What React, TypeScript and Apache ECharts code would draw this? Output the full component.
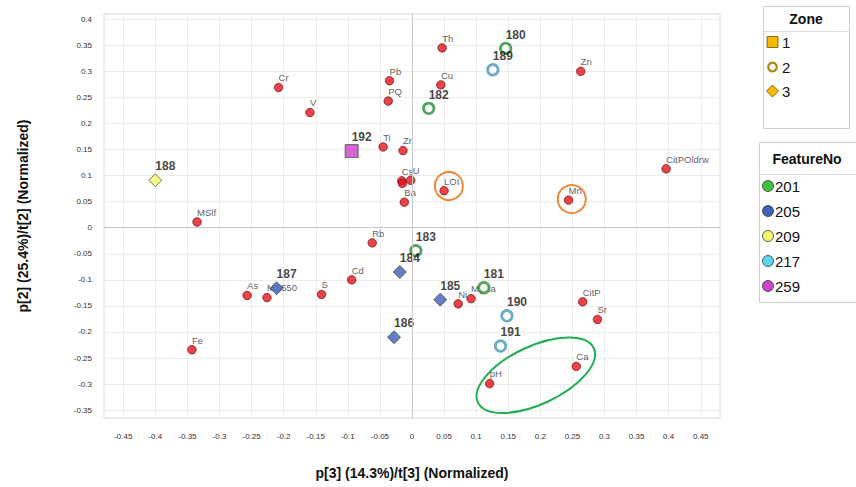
import React, { useEffect, useRef } from "react";
import * as echarts from "echarts";

// ---- Variables (loadings) ----
const variableNames = ["Th", "Zn", "Cr", "Pb", "Cu", "PQ", "V", "Ti", "Zr", "Cs", "K", "U", "CitPOldrw", "LOI", "Mn", "Ba", "MSlf", "Rb", "Cd", "As", "MS550", "S", "Ni", "MgSa", "CitP", "Sr", "Fe", "Ca", "pH"];
const variableX = [0.047, 0.263, -0.208, -0.035, 0.045, -0.037, -0.159, -0.045, -0.014, -0.016, -0.015, -0.002, 0.396, 0.050, 0.244, -0.012, -0.335, -0.062, -0.094, -0.257, -0.226, -0.141, 0.072, 0.092, 0.266, 0.289, -0.343, 0.256, 0.121];
const variableY = [0.345, 0.300, 0.269, 0.282, 0.274, 0.243, 0.221, 0.155, 0.148, 0.090, 0.085, 0.091, 0.113, 0.071, 0.053, 0.049, 0.011, -0.029, -0.100, -0.130, -0.134, -0.128, -0.146, -0.136, -0.142, -0.176, -0.234, -0.266, -0.299];
const hiddenLabels = ["K"];

// ---- Observations (scores) ----
const obsIds = ["180", "181", "182", "183", "184", "185", "186", "187", "188", "189", "190", "191", "192"];
const obsX = [0.146, 0.112, 0.026, 0.006, -0.019, 0.044, -0.028, -0.211, -0.400, 0.126, 0.148, 0.138, -0.094];
const obsY = [0.344, -0.115, 0.229, -0.044, -0.085, -0.138, -0.210, -0.116, 0.091, 0.303, -0.169, -0.227, 0.147];
const obsFeature = ["201", "201", "201", "201", "205", "205", "205", "205", "209", "217", "217", "217", "259"];
const obsZone = ["2", "2", "2", "2", "3", "3", "3", "3", "3", "2", "2", "2", "1"];

// ---- Legends ----
const zoneLabels = ["1", "2", "3"];
const featureLabels = ["201", "205", "209", "217", "259"];

// ---- Annotations (circled regions, data coords) ----
const annotationX = [0.0575, 0.249, 0.193];
const annotationY = [0.080, 0.055, -0.283];
const annotationKind = ["circle", "circle", "ellipse"];

// ---- Axis ticks ----
const xTicks = [-0.45, -0.4, -0.35, -0.3, -0.25, -0.2, -0.15, -0.1, -0.05, 0, 0.05, 0.1, 0.15, 0.2, 0.25, 0.3, 0.35, 0.4, 0.45];
const yTicks = [-0.35, -0.3, -0.25, -0.2, -0.15, -0.1, -0.05, 0, 0.05, 0.1, 0.15, 0.2, 0.25, 0.3, 0.35, 0.4];

const featureFill: Record<string, string> = {
  "201": "#3ec43e",
  "205": "#3f5fb8",
  "209": "#f4f46c",
  "217": "#5ad6f0",
  "259": "#c944c9",
};
const featureRing: Record<string, string> = {
  "201": "#2c8c3a",
  "217": "#4a98b3",
};
const zoneSymbol: Record<string, string> = { "1": "rect", "2": "circle", "3": "diamond" };

const FONT = "'Liberation Sans', Arial, Helvetica, sans-serif";

export default function App() {
  const ref = useRef<HTMLDivElement>(null);

  useEffect(() => {
    if (!ref.current) return;
    const chart = echarts.init(ref.current, undefined, { renderer: "svg" });

    const variableData = variableNames.map((n, i) => {
      const item: any = { name: n, value: [variableX[i], variableY[i]] };
      if (hiddenLabels.includes(n)) item.label = { show: false };
      if (n === "U") item.label = { offset: [2, 0] };
      return item;
    });

    const obsSeries = featureLabels.map((f) => {
      const data = obsIds
        .map((id, i) => ({ id, i }))
        .filter((o) => obsFeature[o.i] === f)
        .map(({ id, i }) => {
          const zone = obsZone[i];
          const sym = zoneSymbol[zone];
          const ring = zone === "2";
          return {
            name: id,
            value: [obsX[i], obsY[i]],
            symbol: sym,
            symbolSize: ring ? 10.5 : 13,
            itemStyle: ring
              ? { color: "#ffffff", borderColor: featureRing[f] || featureFill[f], borderWidth: 2.8 }
              : { color: featureFill[f], borderColor: "#2a2a2a", borderWidth: 0.8 },
          };
        });
      return {
        type: "scatter",
        name: f,
        z: 4,
        data,
        label: {
          show: true,
          formatter: "{b}",
          position: "top",
          align: "left",
          distance: 1,
          fontSize: 12,
          fontWeight: "bold",
          color: "#111",
          fontFamily: FONT,
        },
      };
    });

    const annotationData = annotationX.map((x, i) => [x, annotationY[i]]);

    const legendGraphic: any[] = [];
    // Zone legend
    legendGraphic.push({ type: "rect", shape: { x: 763.5, y: 6.5, width: 86, height: 122 }, style: { fill: "#fff", stroke: "#cfcfcf", lineWidth: 1 } });
    legendGraphic.push({ type: "line", shape: { x1: 763.5, y1: 31.5, x2: 849.5, y2: 31.5 }, style: { stroke: "#dcdcdc", lineWidth: 1 } });
    legendGraphic.push({ type: "text", x: 806, y: 19, style: { text: "Zone", font: `bold 14px ${FONT}`, fill: "#111", textAlign: "center", textVerticalAlign: "middle" } });
    const zoneY = [42, 67, 91];
    zoneLabels.forEach((z, i) => {
      const cy = zoneY[i];
      if (z === "1") {
        legendGraphic.push({ type: "rect", shape: { x: 767, y: cy - 5.5, width: 11, height: 11 }, style: { fill: "#f6b800", stroke: "#6b5200", lineWidth: 0.8 } });
      } else if (z === "2") {
        legendGraphic.push({ type: "circle", shape: { cx: 772.5, cy, r: 4.3 }, style: { fill: "#fff", stroke: "#b08a10", lineWidth: 2.2 } });
      } else {
        legendGraphic.push({ type: "polygon", shape: { points: [[772.5, cy - 6], [778.5, cy], [772.5, cy + 6], [766.5, cy]] }, style: { fill: "#f6b800", stroke: "#6b5200", lineWidth: 0.8 } });
      }
      legendGraphic.push({ type: "text", x: 782, y: cy, style: { text: z, font: `15px ${FONT}`, fill: "#111", textVerticalAlign: "middle" } });
    });
    // FeatureNo legend
    legendGraphic.push({ type: "rect", shape: { x: 759.5, y: 142.5, width: 97, height: 160 }, style: { fill: "#fff", stroke: "#cfcfcf", lineWidth: 1 } });
    legendGraphic.push({ type: "line", shape: { x1: 759.5, y1: 174.5, x2: 856, y2: 174.5 }, style: { stroke: "#dcdcdc", lineWidth: 1 } });
    legendGraphic.push({ type: "text", x: 807, y: 159, style: { text: "FeatureNo", font: `bold 14px ${FONT}`, fill: "#111", textAlign: "center", textVerticalAlign: "middle" } });
    const featY = [186, 211, 236, 261, 286];
    featureLabels.forEach((f, i) => {
      const cy = featY[i];
      legendGraphic.push({ type: "circle", shape: { cx: 768, cy, r: 5.5 }, style: { fill: featureFill[f], stroke: "#333", lineWidth: 0.8 } });
      legendGraphic.push({ type: "text", x: 775, y: cy, style: { text: f, font: `15px ${FONT}`, fill: "#111", textVerticalAlign: "middle" } });
    });

    chart.setOption({
      animation: false,
      textStyle: { fontFamily: FONT },
      grid: {
        left: 104,
        right: 136,
        top: 14,
        bottom: 69,
        show: true,
        borderColor: "#d6d6d6",
        borderWidth: 1,
        backgroundColor: "#fff",
      },
      xAxis: {
        type: "value",
        min: -0.48,
        max: 0.48,
        name: "p[3] (14.3%)/t[3] (Normalized)",
        nameLocation: "middle",
        nameGap: 48,
        nameTextStyle: { fontSize: 14, fontWeight: "bold", color: "#111", fontFamily: FONT },
        axisLine: { show: false },
        axisTick: { show: false, customValues: xTicks },
        axisLabel: {
          customValues: xTicks,
          margin: 14,
          fontSize: 8,
          color: "#333",
          formatter: (v: number) => String(v),
        },
        splitLine: { show: true, lineStyle: { color: "#ececec", width: 1 } },
      },
      yAxis: {
        type: "value",
        min: -0.365,
        max: 0.41,
        name: "p[2] (25.4%)/t[2] (Normalized)",
        nameLocation: "middle",
        nameGap: 74,
        nameTextStyle: { fontSize: 14, fontWeight: "bold", color: "#111", fontFamily: FONT },
        axisLine: { show: false },
        axisTick: { show: false, customValues: yTicks },
        axisLabel: {
          customValues: yTicks,
          margin: 12,
          fontSize: 8,
          color: "#333",
          formatter: (v: number) => String(v),
        },
        splitLine: { show: true, lineStyle: { color: "#ececec", width: 1 } },
      },
      graphic: legendGraphic,
      series: [
        {
          type: "custom",
          name: "annotations",
          z: 1,
          silent: true,
          data: annotationData,
          renderItem: (params: any, api: any) => {
            const p = api.coord([api.value(0), api.value(1)]);
            const kind = annotationKind[params.dataIndex];
            if (kind === "circle") {
              return {
                type: "circle",
                shape: { cx: p[0], cy: p[1], r: 14 },
                style: { fill: "none", stroke: "#ee8a3c", lineWidth: 2 },
              };
            }
            return {
              type: "ellipse",
              x: p[0],
              y: p[1],
              rotation: (25 * Math.PI) / 180,
              shape: { cx: 0, cy: 0, rx: 64, ry: 29 },
              style: { fill: "none", stroke: "#1fae52", lineWidth: 2 },
            };
          },
          markLine: {
            silent: true,
            symbol: "none",
            label: { show: false },
            lineStyle: { color: "#c8c8c8", type: "solid", width: 1 },
            data: [{ xAxis: 0 }, { yAxis: 0 }],
          },
        },
        {
          type: "scatter",
          name: "variables",
          z: 3,
          symbol: "circle",
          symbolSize: 8.5,
          itemStyle: { color: "#e6141b", borderColor: "#5a0000", borderWidth: 0.8 },
          data: variableData,
          label: {
            show: true,
            formatter: "{b}",
            position: "top",
            align: "left",
            distance: 0,
            fontSize: 9.5,
            color: "#333",
            fontFamily: FONT,
          },
        },
        ...obsSeries,
      ],
    });

    return () => chart.dispose();
  }, []);

  return (
    <div
      ref={ref}
      style={{ position: "fixed", left: 0, top: 0, width: 856, height: 487, background: "#fff" }}
    />
  );
}
